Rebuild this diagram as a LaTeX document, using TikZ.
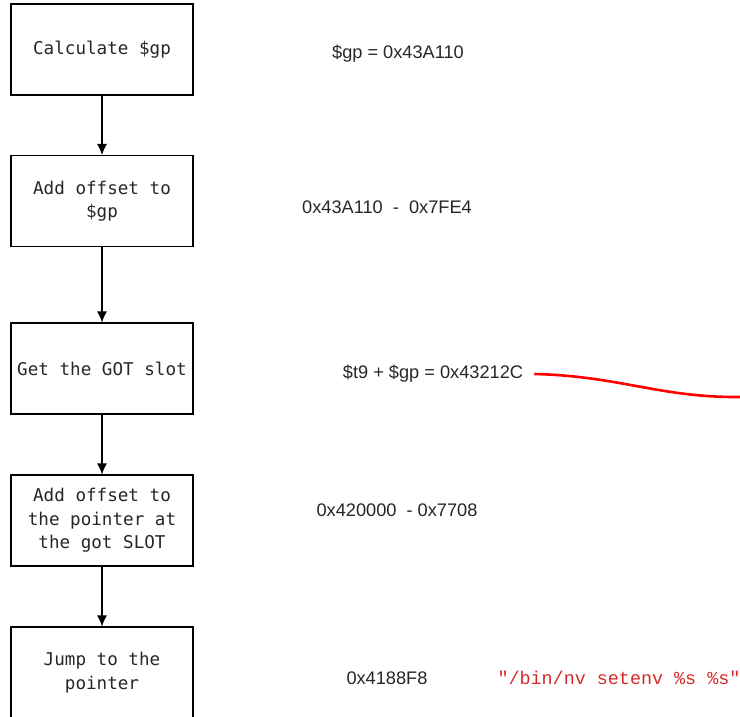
\documentclass[tikz,border=0pt]{standalone}
\usepackage{fontspec}
\setmainfont{Liberation Sans}
\setmonofont{Liberation Mono}
\newfontfamily\boxfont{DejaVu Sans Mono}
\usetikzlibrary{arrows.meta}
\definecolor{strred}{RGB}{214,40,40}
\begin{document}
\begin{tikzpicture}[x=1pt,y=-1pt,
 every node/.style={font=\fontsize{18.2}{23}\selectfont},
 stepbox/.style={draw,line width=1.1pt,minimum width=182pt,minimum height=91pt,
  align=center,text=black!85,font=\boxfont\fontsize{17.6}{23.5}\selectfont},
 value/.style={text=black!85,inner sep=0pt}]
 \useasboundingbox (0,0) rectangle (740,717);
 % flow boxes
 \node [stepbox] (calc) at (102,49.5) {Calculate \$gp};
 \node [stepbox] (addgp) at (102,201) {Add offset to\\\$gp};
 \node [stepbox] (slot) at (102,368.5) {Get the GOT slot};
 \node [stepbox] (addptr) at (102,520.5) {Add offset to\\the pointer at\\the got SLOT};
 \node [stepbox] (jump) at (102,672.5) {Jump to the\\pointer};
 \foreach \a/\b in {calc/addgp,addgp/slot,slot/addptr,addptr/jump}
  \draw [-{Latex[length=11pt,width=10pt]},line width=1.1pt] (\a) -- (\b);
 % values
 \node [value] (gpval) at (398,54) {\$gp = 0x43A110};
 \node [value] (gpoff) at (387,207) {0x43A110\ \ -\ \ 0x7FE4};
 \node [value] (t9) at (433,374) {\$t9 + \$gp = 0x43212C};
 \node [value] (ptroff) at (397,510) {0x420000\ \ - 0x7708};
 \node [value] (target) at (387,678) {0x4188F8};
 \node [inner sep=0pt,text=strred,font=\ttfamily\fontsize{18.4}{23}\selectfont]
  (cmd) at (619,678) {"/bin/nv setenv \%s \%s"};
 \coordinate (offpage) at (742,397);
 \draw [red,line width=2.6pt] ([xshift=11pt]t9.east) .. controls (620,376) and (660,398) .. (offpage);
\end{tikzpicture}
\end{document}
